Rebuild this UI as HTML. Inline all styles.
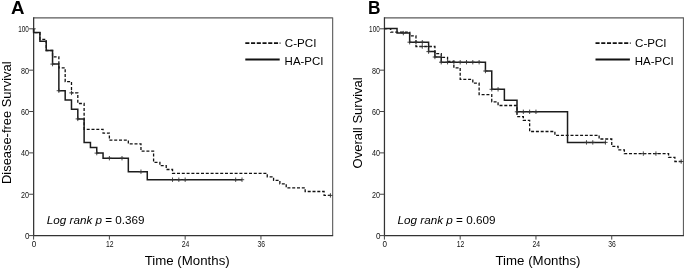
<!DOCTYPE html>
<html><head><meta charset="utf-8"><title>Survival curves</title>
<style>
html,body{margin:0;padding:0;background:#fff;}
svg{display:block;font-family:"Liberation Sans",sans-serif;}
</style></head>
<body>
<svg width="685" height="269" viewBox="0 0 685 269">
<rect width="685" height="269" fill="#fff"/>
<g>
<path d="M33.6,17.95H332.65" fill="none" stroke="#5a5a5a" stroke-width="1.25"/>
<path d="M332.65,17.4V235.6" fill="none" stroke="#606060" stroke-width="1.15"/>
<path d="M33.65,17.3V235.6H333.15" fill="none" stroke="#333" stroke-width="1.25"/>
<path d="M29.1,235.6H33.6" stroke="#444" stroke-width="1"/>
<text x="29.6" y="239.0" text-anchor="end" font-size="8.5" textLength="4.5" lengthAdjust="spacingAndGlyphs" fill="#111">0</text>
<path d="M29.1,194.24H33.6" stroke="#444" stroke-width="1"/>
<text x="29.1" y="197.64" text-anchor="end" font-size="8.5" textLength="8.0" lengthAdjust="spacingAndGlyphs" fill="#111">20</text>
<path d="M29.1,152.88H33.6" stroke="#444" stroke-width="1"/>
<text x="29.1" y="156.28" text-anchor="end" font-size="8.5" textLength="8.0" lengthAdjust="spacingAndGlyphs" fill="#111">40</text>
<path d="M29.1,111.52H33.6" stroke="#444" stroke-width="1"/>
<text x="29.1" y="114.92" text-anchor="end" font-size="8.5" textLength="8.0" lengthAdjust="spacingAndGlyphs" fill="#111">60</text>
<path d="M29.1,70.16H33.6" stroke="#444" stroke-width="1"/>
<text x="29.1" y="73.56" text-anchor="end" font-size="8.5" textLength="8.0" lengthAdjust="spacingAndGlyphs" fill="#111">80</text>
<path d="M29.1,28.8H35.7" stroke="#444" stroke-width="1"/>
<text x="28.9" y="32.2" text-anchor="end" font-size="8.5" textLength="10.6" lengthAdjust="spacingAndGlyphs" fill="#111">100</text>
<path d="M33.6,235V239.6" stroke="#444" stroke-width="1"/>
<text x="33.9" y="246.9" text-anchor="middle" font-size="8.5" textLength="4.5" lengthAdjust="spacingAndGlyphs" fill="#111">0</text>
<path d="M109.38,235V239.6" stroke="#444" stroke-width="1"/>
<text x="109.67999999999999" y="246.9" text-anchor="middle" font-size="8.5" textLength="7.6" lengthAdjust="spacingAndGlyphs" fill="#111">12</text>
<path d="M185.16,235V239.6" stroke="#444" stroke-width="1"/>
<text x="185.46" y="246.9" text-anchor="middle" font-size="8.5" textLength="7.6" lengthAdjust="spacingAndGlyphs" fill="#111">24</text>
<path d="M260.94,235V239.6" stroke="#444" stroke-width="1"/>
<text x="261.24" y="246.9" text-anchor="middle" font-size="8.5" textLength="7.6" lengthAdjust="spacingAndGlyphs" fill="#111">36</text>
<text x="187.2" y="264.5" text-anchor="middle" font-size="12.8" textLength="85" lengthAdjust="spacingAndGlyphs">Time (Months)</text>
<text transform="translate(11.2,122.7) rotate(-90)" text-anchor="middle" font-size="13.5" textLength="122.6" lengthAdjust="spacingAndGlyphs">Disease-free Survival</text>
<text x="11.0" y="13.7" font-size="17.6" font-weight="bold" textLength="13.5" lengthAdjust="spacingAndGlyphs">A</text>
<text x="46.8" y="223.6" font-size="11.7"><tspan font-style="italic">Log rank p</tspan> = 0.369</text>
<path d="M245.3,43.1H280.4" stroke="#111" stroke-width="1.9" stroke-dasharray="4.1 1.63" fill="none"/>
<path d="M245.3,59.5H279.7" stroke="#111" stroke-width="1.9" fill="none"/>
<text x="284.8" y="46.7" font-size="11.1" textLength="31.6" lengthAdjust="spacingAndGlyphs">C-PCI</text>
<text x="284.6" y="64.8" font-size="11.1" textLength="38.9" lengthAdjust="spacingAndGlyphs">HA-PCI</text>
<path d="M33.6,28.8H33.6V32.6H39.91V39.3H46.23V50.5H52.55V56.8H58.86V67.9H65.18V81.7H71.49V92.9H77.81V103.5H84.12V129.3H103.06V133.1H109.38V140.2H128.33V143.9H140.96V151.2H153.59V162.3H159.9V165.7H166.22V169.5H172.53V173.4H267.25V176.8H273.57V180.4H279.89V183.8H286.2V187.8H305.15V191.5H324.09V195.4H331.04" fill="none" stroke="#111" stroke-width="1.3" stroke-dasharray="3 1.8"/>
<path d="M71.49,90.7V95.1M69.29,92.9H73.69M330.41,193.2V197.6M328.21,195.4H332.61" fill="none" stroke="#333" stroke-width="0.9"/>
<path d="M33.6,28.8H33.6V32.6H39.91V41.3H46.23V50.5H52.55V64.1H58.86V90.7H65.18V100.1H71.49V109.3H77.81V118.9H84.12V142.4H90.44V147.5H96.75V153.1H103.06V158.2H128.33V171.7H147.27V179.7H242.0" fill="none" stroke="#1c1c1c" stroke-width="1.5"/>
<path d="M52.55,61.9V66.3M50.35,64.1H54.75M58.86,88.5V92.9M56.66,90.7H61.06M77.81,116.7V121.1M75.61,118.9H80.01M96.75,150.9V155.3M94.55,153.1H98.95M109.38,156.0V160.4M107.18,158.2H111.58M122.01,156.0V160.4M119.81,158.2H124.21M140.96,169.5V173.9M138.76,171.7H143.16M172.53,177.5V181.9M170.33,179.7H174.73M178.84,177.5V181.9M176.64,179.7H181.04M185.16,177.5V181.9M182.96,179.7H187.36M235.68,177.5V181.9M233.48,179.7H237.88M242.0,177.5V181.9M239.8,179.7H244.2" fill="none" stroke="#333" stroke-width="0.9"/>
</g>
<g>
<path d="M384.4,17.95H683.45" fill="none" stroke="#5a5a5a" stroke-width="1.25"/>
<path d="M683.45,17.4V235.6" fill="none" stroke="#606060" stroke-width="1.15"/>
<path d="M384.45,17.3V235.6H683.95" fill="none" stroke="#333" stroke-width="1.25"/>
<path d="M379.9,235.6H384.4" stroke="#444" stroke-width="1"/>
<text x="380.4" y="239.0" text-anchor="end" font-size="8.5" textLength="4.5" lengthAdjust="spacingAndGlyphs" fill="#111">0</text>
<path d="M379.9,194.24H384.4" stroke="#444" stroke-width="1"/>
<text x="379.9" y="197.64" text-anchor="end" font-size="8.5" textLength="8.0" lengthAdjust="spacingAndGlyphs" fill="#111">20</text>
<path d="M379.9,152.88H384.4" stroke="#444" stroke-width="1"/>
<text x="379.9" y="156.28" text-anchor="end" font-size="8.5" textLength="8.0" lengthAdjust="spacingAndGlyphs" fill="#111">40</text>
<path d="M379.9,111.52H384.4" stroke="#444" stroke-width="1"/>
<text x="379.9" y="114.92" text-anchor="end" font-size="8.5" textLength="8.0" lengthAdjust="spacingAndGlyphs" fill="#111">60</text>
<path d="M379.9,70.16H384.4" stroke="#444" stroke-width="1"/>
<text x="379.9" y="73.56" text-anchor="end" font-size="8.5" textLength="8.0" lengthAdjust="spacingAndGlyphs" fill="#111">80</text>
<path d="M379.9,28.8H386.5" stroke="#444" stroke-width="1"/>
<text x="379.7" y="32.2" text-anchor="end" font-size="8.5" textLength="10.6" lengthAdjust="spacingAndGlyphs" fill="#111">100</text>
<path d="M384.4,235V239.6" stroke="#444" stroke-width="1"/>
<text x="384.7" y="246.9" text-anchor="middle" font-size="8.5" textLength="4.5" lengthAdjust="spacingAndGlyphs" fill="#111">0</text>
<path d="M460.18,235V239.6" stroke="#444" stroke-width="1"/>
<text x="460.48" y="246.9" text-anchor="middle" font-size="8.5" textLength="7.6" lengthAdjust="spacingAndGlyphs" fill="#111">12</text>
<path d="M535.96,235V239.6" stroke="#444" stroke-width="1"/>
<text x="536.26" y="246.9" text-anchor="middle" font-size="8.5" textLength="7.6" lengthAdjust="spacingAndGlyphs" fill="#111">24</text>
<path d="M611.74,235V239.6" stroke="#444" stroke-width="1"/>
<text x="612.04" y="246.9" text-anchor="middle" font-size="8.5" textLength="7.6" lengthAdjust="spacingAndGlyphs" fill="#111">36</text>
<text x="538.0" y="264.5" text-anchor="middle" font-size="12.8" textLength="85" lengthAdjust="spacingAndGlyphs">Time (Months)</text>
<text transform="translate(362.1,122.9) rotate(-90)" text-anchor="middle" font-size="13.5" textLength="91.2" lengthAdjust="spacingAndGlyphs">Overall Survival</text>
<text x="368.0" y="13.7" font-size="17.6" font-weight="bold" textLength="12.5" lengthAdjust="spacingAndGlyphs">B</text>
<text x="397.6" y="223.6" font-size="11.7"><tspan font-style="italic">Log rank p</tspan> = 0.609</text>
<path d="M595.5,43.1H630.6" stroke="#111" stroke-width="1.9" stroke-dasharray="4.1 1.63" fill="none"/>
<path d="M595.5,59.5H629.9" stroke="#111" stroke-width="1.9" fill="none"/>
<text x="635.0" y="46.7" font-size="11.1" textLength="31.6" lengthAdjust="spacingAndGlyphs">C-PCI</text>
<text x="634.8" y="64.8" font-size="11.1" textLength="38.9" lengthAdjust="spacingAndGlyphs">HA-PCI</text>
<path d="M384.4,28.6H390.71V32.2H409.66V35.8H415.97V46.5H434.92V53.6H441.23V57.3H447.55V61.5H453.87V67.8H460.18V79.3H472.81V83.1H479.12V94.6H491.75V101.8H498.07V105.5H517.01V116.6H523.33V120.4H529.64V131.5H554.9V135.3H599.11V139.0H611.74V146.3H618.05V149.9H624.37V153.6H668.58V157.3H674.89V161.5H682.47" fill="none" stroke="#111" stroke-width="1.3" stroke-dasharray="3 1.8"/>
<path d="M422.29,44.3V48.7M420.09,46.5H424.49M428.6,44.3V48.7M426.4,46.5H430.8M643.32,151.4V155.8M641.12,153.6H645.52M655.94,151.4V155.8M653.74,153.6H658.14M681.2,159.3V163.7M679.0,161.5H683.4" fill="none" stroke="#333" stroke-width="0.9"/>
<path d="M384.4,28.6H397.03V33.1H409.66V42.2H428.6V51.6H434.92V57.0H441.23V62.2H485.44V71.0H491.75V89.3H504.38V100.3H517.01V111.8H567.53V142.4H606.06" fill="none" stroke="#1c1c1c" stroke-width="1.5"/>
<path d="M403.34,30.9V35.3M401.14,33.1H405.54M409.66,40.0V44.4M407.46,42.2H411.86M415.97,40.0V44.4M413.77,42.2H418.17M422.29,40.0V44.4M420.09,42.2H424.49M428.6,49.4V53.8M426.4,51.6H430.8M434.92,54.8V59.2M432.72,57.0H437.12M441.23,60.0V64.4M439.03,62.2H443.43M447.55,60.0V64.4M445.35,62.2H449.75M453.87,60.0V64.4M451.67,62.2H456.07M460.18,60.0V64.4M457.98,62.2H462.38M466.5,60.0V64.4M464.3,62.2H468.7M472.81,60.0V64.4M470.61,62.2H475.01M479.12,60.0V64.4M476.92,62.2H481.32M485.44,68.8V73.2M483.24,71.0H487.64M491.75,87.1V91.5M489.55,89.3H493.95M498.07,87.1V91.5M495.87,89.3H500.27M517.01,109.6V114.0M514.81,111.8H519.21M523.33,109.6V114.0M521.13,111.8H525.53M529.64,109.6V114.0M527.44,111.8H531.84M535.96,109.6V114.0M533.76,111.8H538.16M586.48,140.2V144.6M584.28,142.4H588.68M592.79,140.2V144.6M590.59,142.4H594.99M605.42,140.2V144.6M603.22,142.4H607.62" fill="none" stroke="#333" stroke-width="0.9"/>
</g>
</svg>
</body></html>
